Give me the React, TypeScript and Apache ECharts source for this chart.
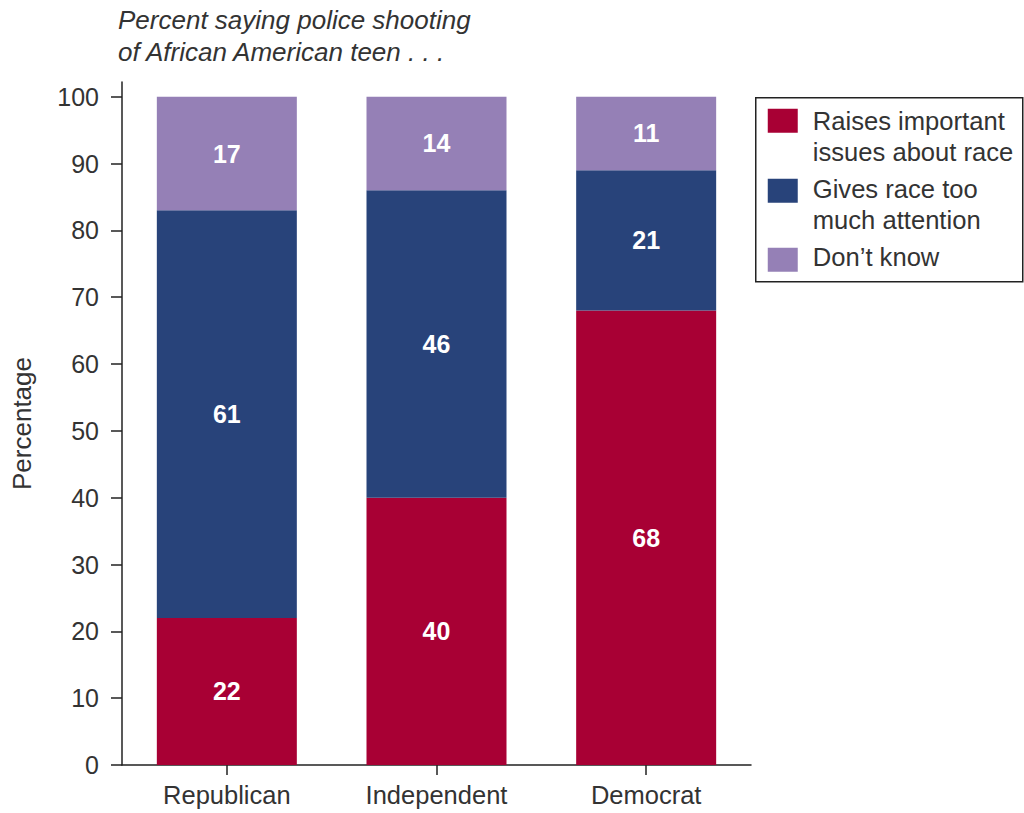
import { useEffect, useRef } from "react";
import * as echarts from "echarts";

const categories = ["Republican", "Independent", "Democrat"];
const raisesIssues = [22, 40, 68];
const tooMuchAttention = [61, 46, 21];
const dontKnow = [17, 14, 11];
const seriesNames = [
  "Raises important\nissues about race",
  "Gives race too\nmuch attention",
  "Don\u2019t know",
];
const yTicks = [0, 10, 20, 30, 40, 50, 60, 70, 80, 90, 100];
const colors = ["#A80034", "#28437A", "#9580B6"];
const titleText = "Percent saying police shooting\nof African American teen . . .";
const yAxisName = "Percentage";

const FONT = "'Liberation Sans', Arial, Helvetica, sans-serif";
const TEXT = "#333";

export default function App() {
  const ref = useRef<HTMLDivElement>(null);

  useEffect(() => {
    if (!ref.current) return;
    const chart = echarts.init(ref.current, undefined, { renderer: "svg" });

    const seriesData = [raisesIssues, tooMuchAttention, dontKnow];
    const legendTextTops = [8, 76, 144];
    const legendMarkTops = [11, 81, 150];

    const legendChildren: any[] = [
      {
        type: "rect",
        shape: { x: 0, y: 0, width: 267, height: 184 },
        style: { fill: "#fff", stroke: "#222", lineWidth: 1.5 },
      },
    ];
    seriesNames.forEach((name, i) => {
      legendChildren.push({
        type: "rect",
        shape: { x: 12, y: legendMarkTops[i], width: 30, height: 24 },
        style: { fill: colors[i] },
      });
      legendChildren.push({
        type: "text",
        x: 57,
        y: legendTextTops[i],
        style: {
          text: name,
          fontSize: 25.6,
          lineHeight: 31,
          fontFamily: FONT,
          fill: TEXT,
          verticalAlign: "top",
        },
      });
    });

    chart.setOption({
      animation: false,
      backgroundColor: "#fff",
      textStyle: { fontFamily: FONT },
      title: {
        text: titleText,
        left: 118,
        top: 4,
        padding: 0,
        textStyle: {
          fontStyle: "italic",
          fontWeight: "normal",
          fontSize: 26,
          lineHeight: 32,
          color: TEXT,
          fontFamily: FONT,
        },
      },
      grid: { left: 122, right: 273, top: 82, bottom: 48 },
      xAxis: {
        type: "category",
        data: categories,
        axisLine: { lineStyle: { color: "#222", width: 1.5 } },
        axisTick: { show: true, alignWithLabel: true, length: 10, lineStyle: { color: "#222", width: 1.5 } },
        axisLabel: { fontSize: 25.5, color: TEXT, margin: 17, fontFamily: FONT },
      },
      yAxis: {
        type: "value",
        min: 0,
        max: 102.2,
        name: yAxisName,
        nameLocation: "middle",
        nameRotate: 90,
        nameGap: 87,
        nameTextStyle: { fontSize: 26, color: TEXT, fontFamily: FONT },
        splitLine: { show: false },
        axisLine: { show: true, lineStyle: { color: "#222", width: 1.5 } },
        axisTick: { show: true, length: 11, customValues: yTicks, lineStyle: { color: "#222", width: 1.5 } },
        axisLabel: { customValues: yTicks, fontSize: 25, color: TEXT, margin: 23, fontFamily: FONT },
      },
      graphic: [
        {
          type: "group",
          left: 755,
          top: 97,
          children: legendChildren,
        },
      ],
      series: seriesNames.map((name, i) => ({
        name,
        type: "bar",
        stack: "total",
        barWidth: 140,
        data: seriesData[i],
        itemStyle: { color: colors[i] },
        label: {
          show: true,
          position: "inside",
          color: "#fff",
          fontWeight: "bold",
          fontSize: 25,
          fontFamily: FONT,
        },
      })),
    });

    return () => chart.dispose();
  }, []);

  return (
    <div
      ref={ref}
      style={{ position: "fixed", left: 0, top: 0, width: 1024, height: 813 }}
    />
  );
}
